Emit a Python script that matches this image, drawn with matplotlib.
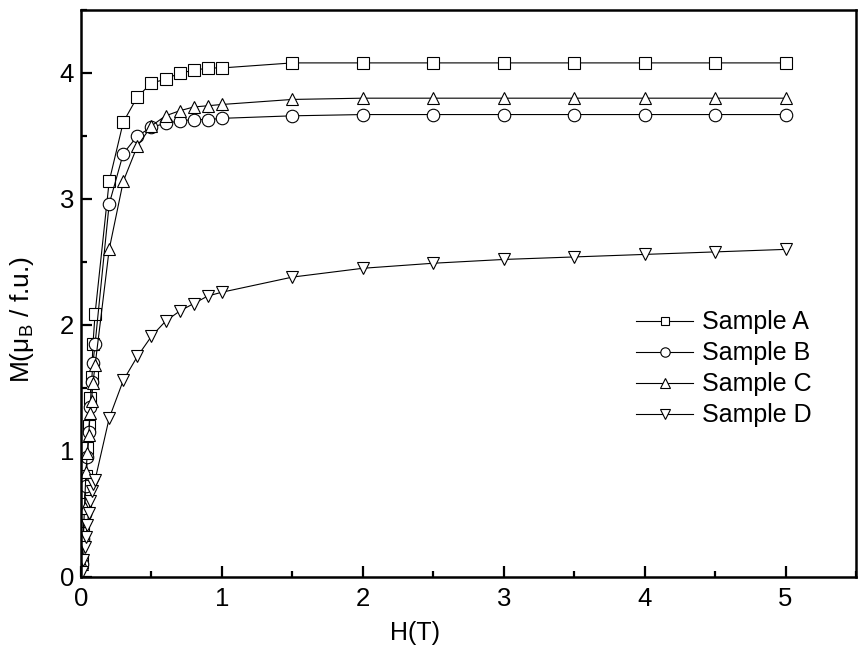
import matplotlib
matplotlib.use('Agg')
import matplotlib.pyplot as plt
from matplotlib.ticker import MultipleLocator

plt.rcParams['font.family'] = ['Liberation Sans', 'DejaVu Sans']
plt.rcParams['mathtext.fontset'] = 'custom'
plt.rcParams['mathtext.rm'] = 'Liberation Sans'

# field values (T)
h_low = [0.005, 0.015, 0.025, 0.035, 0.045, 0.055, 0.065, 0.075, 0.085, 0.1]
h_high = [0.2, 0.3, 0.4, 0.5, 0.6, 0.7, 0.8, 0.9, 1.0, 1.5, 2.0, 2.5, 3.0, 3.5, 4.0, 4.5, 5.0]

m_a = [0.12, 0.35, 0.58, 0.8, 1.02, 1.2, 1.42, 1.59, 1.85, 2.09,
       3.14, 3.61, 3.81, 3.92, 3.95, 4.0, 4.02, 4.04, 4.04, 4.08,
       4.08, 4.08, 4.08, 4.08, 4.08, 4.08, 4.08]
m_b = [0.1, 0.3, 0.5, 0.72, 0.95, 1.15, 1.35, 1.55, 1.7, 1.85,
       2.96, 3.36, 3.5, 3.57, 3.6, 3.62, 3.63, 3.63, 3.64, 3.66,
       3.67, 3.67, 3.67, 3.67, 3.67, 3.67, 3.67]
m_c = [0.1, 0.3, 0.55, 0.83, 0.98, 1.13, 1.3, 1.4, 1.54, 1.68,
       2.6, 3.14, 3.42, 3.58, 3.66, 3.7, 3.73, 3.74, 3.75, 3.79,
       3.8, 3.8, 3.8, 3.8, 3.8, 3.8, 3.8]
m_d = [0.04, 0.135, 0.24, 0.32, 0.41, 0.51, 0.6, 0.68, 0.74, 0.77,
       1.26, 1.56, 1.75, 1.91, 2.03, 2.11, 2.17, 2.23, 2.26, 2.38,
       2.45, 2.49, 2.52, 2.54, 2.56, 2.58, 2.6]

labels = ['Sample A', 'Sample B', 'Sample C', 'Sample D']
markers = ['s', 'o', '^', 'v']

h = h_low + h_high

fig = plt.figure(figsize=(8.58, 6.48), dpi=100)
ax = fig.add_axes([0.0944, 0.1096, 0.9033, 0.875])

for m, lab, mk in zip([m_a, m_b, m_c, m_d], labels, markers):
    ax.plot(h, m, '-', color='black', linewidth=0.8, marker=mk,
            markersize=9 if mk != 's' else 8, markerfacecolor='white',
            markeredgecolor='black', markeredgewidth=0.8, label=lab)

ax.set_xlim(0, 5.5)
ax.set_ylim(0, 4.5)
ax.xaxis.set_major_locator(MultipleLocator(1))
ax.xaxis.set_minor_locator(MultipleLocator(0.5))
ax.yaxis.set_major_locator(MultipleLocator(1))
ax.yaxis.set_minor_locator(MultipleLocator(0.5))
ax.tick_params(which='both', direction='in', width=1.6, labelsize=18.5)
ax.tick_params(which='major', length=8)
ax.tick_params(which='minor', length=4)
ax.tick_params(axis='x', pad=7)
ax.tick_params(axis='y', pad=5)
for sp in ax.spines.values():
    sp.set_linewidth(1.8)

ax.set_xlabel('H(T)', fontsize=18)
ax.set_ylabel(r'M(μ$_\mathrm{B}$ / f.u.)', fontsize=19)
ax.xaxis.set_label_coords(0.431, -0.078)
ax.yaxis.set_label_coords(-0.058, 0.455)

ax.legend(loc='upper left', bbox_to_anchor=(0.687, 0.51), frameon=False,
          fontsize=18, handlelength=2.3, handletextpad=0.35,
          labelspacing=0.28, markerscale=0.75)

fig.savefig('out.png', dpi=100)
